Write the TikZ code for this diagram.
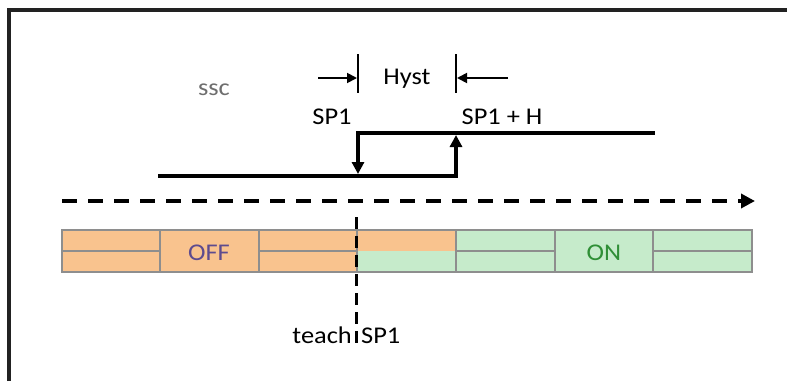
\documentclass[tikz,border=0pt]{standalone}
\usepackage{fontspec}
\setmainfont{Carlito}[FakeStretch=1.1]
\usetikzlibrary{arrows.meta}
\definecolor{frame}{HTML}{222222}
\definecolor{orangefill}{HTML}{F9C38E}
\definecolor{greenfill}{HTML}{C6EBCB}
\definecolor{cellgray}{HTML}{8E8E8E}
\definecolor{offtext}{HTML}{5E4B8E}
\definecolor{ontext}{HTML}{2F8F36}
\definecolor{ssctext}{HTML}{6E6E6E}
\begin{document}
\begin{tikzpicture}[x=1pt,y=-1pt,
  lbl/.style={font=\fontsize{24}{28}\selectfont, inner sep=0pt, anchor=base},
  heavy/.style={line width=4pt, draw=black},
  thinarrow/.style={line width=1.8pt, draw=black, -{Triangle[length=10pt,width=10pt]}},
  tick/.style={line width=1.8pt, draw=black},
  cell/.style={draw=cellgray, line width=1.8pt},
  bigtip/.style={-{Triangle[length=12pt,width=12pt]}}]
\useasboundingbox (0,0) rectangle (787,381);
\fill[white] (0,0) rectangle (787,381);
% frame
\draw[line width=4pt, frame] (9,381) -- (9,10) -- (787,10);

% labels
\node[lbl, text=ssctext] (ssc) at (214,95) {ssc};
\node[lbl] (hyst) at (407,84) {Hyst};
\node[lbl] (sp1a) at (332,124) {SP1};
\node[lbl] (sp1h) at (502,124) {SP1 + H};

% hysteresis ticks and arrows
\coordinate (t1a) at (358,54); \coordinate (t1b) at (358,93);
\coordinate (t2a) at (456,54); \coordinate (t2b) at (456,93);
\draw[tick] (t1a) -- (t1b);
\draw[tick] (t2a) -- (t2b);
\coordinate (a1s) at (318,78); \coordinate (a1e) at (357,78);
\coordinate (a2s) at (508,78); \coordinate (a2e) at (457,78);
\draw[thinarrow] (a1s) -- (a1e);
\draw[thinarrow] (a2s) -- (a2e);

% switching curve
\coordinate (lo1) at (160,176); \coordinate (lo2) at (456,176);
\coordinate (hi1) at (358,133); \coordinate (hi2) at (653,133);
\coordinate (upEnd) at (456,135); \coordinate (dnEnd) at (358,174);
\draw[heavy, line cap=rect] (lo1) -- (lo2);
\draw[heavy, line cap=rect] (hi1) -- (hi2);
\draw[heavy, bigtip] (lo2) -- (upEnd);
\draw[heavy, bigtip] (hi1) -- (dnEnd);

% dashed axis
\coordinate (ax1) at (62,201); \coordinate (ax2) at (755,201);
\draw[line width=4pt, dash pattern=on 15pt off 11pt, -{Triangle[length=14pt,width=14pt]}] (ax1) -- (ax2);

% bar fills
\fill[orangefill] (62,230) rectangle (357,272);
\fill[orangefill] (357,230) rectangle (456,251);
\fill[greenfill] (357,251) rectangle (456,272);
\fill[greenfill] (456,230) rectangle (752,272);
% bar lines
\draw[cell] (62,230) rectangle (752,272);
\foreach \x in {160,259,357,456,555,653} \draw[cell] (\x,230) -- (\x,272);
\draw[cell] (62,251) -- (160,251);
\draw[cell] (259,251) -- (357,251);
\draw[cell] (456,251) -- (555,251);
\draw[cell] (653,251) -- (752,251);
\node[lbl, text=offtext] (off) at (209,260) {OFF};
\node[lbl, text=ontext] (on) at (604,260) {ON};

% teach line
\coordinate (te1) at (356,217); \coordinate (te2) at (356,346);
\draw[line width=3pt, dash pattern=on 12pt off 7pt] (te1) -- (te2);
\node[lbl, anchor=base east] (teach) at (352,343) {teach};
\node[lbl, anchor=base west] (sp1b) at (361,343) {SP1};
\end{tikzpicture}
\end{document}
